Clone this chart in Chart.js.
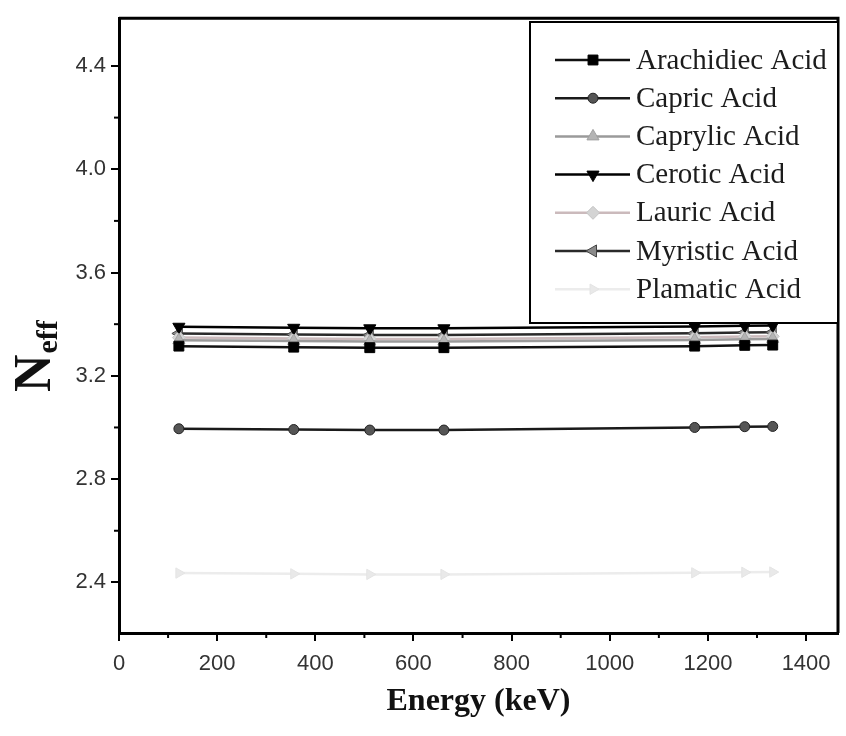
<!DOCTYPE html>
<html>
<head>
<meta charset="utf-8">
<script src="https://cdn.jsdelivr.net/npm/chart.js@4.4.1/dist/chart.umd.min.js"></script>
<style>
    html, body { margin: 0; padding: 0; background: #fff; }
    #contenedor { width: 846px; height: 736px; }
</style>
</head>
<body>
<div id="contenedor"><canvas id="grafica" width="846" height="736"></canvas></div>
<script>
// Energías de los fotones (keV)
const energias = [122, 356, 511, 662, 1173, 1275, 1332];

// Valores de N_eff
const arachidiec = [3.315, 3.311, 3.309, 3.309, 3.315, 3.318, 3.319];
const capric     = [2.995, 2.992, 2.990, 2.990, 3.000, 3.003, 3.004];
const caprylic   = [3.338, 3.335, 3.333, 3.333, 3.339, 3.342, 3.343];
const cerotic    = [3.390, 3.386, 3.384, 3.384, 3.391, 3.394, 3.395];
const lauric     = [3.348, 3.345, 3.343, 3.343, 3.349, 3.352, 3.353];
const myristic   = [3.364, 3.360, 3.358, 3.358, 3.365, 3.368, 3.369];
const plamatic   = [2.436, 2.433, 2.431, 2.431, 2.437, 2.439, 2.440];

// Ticks de los ejes
const xTicks = [0, 200, 400, 600, 800, 1000, 1200, 1400];
const xMenores = [100, 300, 500, 700, 900, 1100, 1300];
const yTicks = [2.4, 2.8, 3.2, 3.6, 4.0, 4.4];
const yMenores = [2.6, 3.0, 3.4, 3.8, 4.2];

const fuenteTicks = "'Liberation Sans', Arial, sans-serif";
const fuenteSerif = "'Liberation Serif', 'Times New Roman', serif";

function puntos(serie) {
    return energias.map((e, i) => ({ x: e, y: serie[i] }));
}

// Estilos de cada serie
const series = [
    { label: "Arachidiec Acid", datos: arachidiec, linea: "#111", relleno: "#000", borde: "#000", estilo: "rect", radio: 7, rot: 0 },
    { label: "Capric Acid", datos: capric, linea: "#1a1a1a", relleno: "#555", borde: "#222", estilo: "circle", radio: 5, rot: 0 },
    { label: "Caprylic Acid", datos: caprylic, linea: "#9a9a9a", relleno: "#b4b4b4", borde: "#a0a0a0", estilo: "triangle", radio: 7, rot: 0 },
    { label: "Cerotic Acid", datos: cerotic, linea: "#000", relleno: "#000", borde: "#000", estilo: "triangle", radio: 7, rot: 180 },
    { label: "Lauric Acid", datos: lauric, linea: "#cbbabc", relleno: "#d4d4d4", borde: "#c4c4c4", estilo: "rectRot", radio: 6.5, rot: 0 },
    { label: "Myristic Acid", datos: myristic, linea: "#2a2a2a", relleno: "#8a8a8a", borde: "#444", estilo: "triangle", radio: 7, rot: 270 },
    { label: "Plamatic Acid", datos: plamatic, linea: "#ececec", relleno: "#e9e9e9", borde: "#e4e4e4", estilo: "triangle", radio: 6, rot: 90 }
];

const datasets = series.map((s) => ({
    label: s.label,
    data: puntos(s.datos),
    borderColor: s.linea,
    borderWidth: 2.5,
    backgroundColor: s.relleno,
    pointStyle: s.estilo,
    pointRadius: s.radio,
    pointRotation: s.rot,
    pointBackgroundColor: s.relleno,
    pointBorderColor: s.borde,
    pointBorderWidth: 1,
    tension: 0,
    fill: false
}));

function dibujarMarcador(ctx, s, x, y) {
    ctx.save();
    ctx.fillStyle = s.relleno;
    ctx.strokeStyle = s.borde;
    ctx.lineWidth = 1;
    if (Chart.helpers && Chart.helpers.drawPoint) {
        Chart.helpers.drawPoint(ctx, { pointStyle: s.estilo, radius: s.radio, rotation: s.rot, borderWidth: 1 }, x, y);
    } else {
        ctx.beginPath();
        ctx.arc(x, y, s.radio, 0, Math.PI * 2);
        ctx.fill();
        ctx.stroke();
    }
    ctx.restore();
}

// Ticks menores, marco, leyenda y títulos
const pluginExtras = {
    id: "extras",
    afterDatasetsDraw(chart) {
        const ctx = chart.ctx;
        const area = chart.chartArea;
        const sx = chart.scales.x;
        const sy = chart.scales.y;

        ctx.save();
        ctx.strokeStyle = "#000";
        ctx.lineWidth = 2;
        xMenores.forEach((v) => {
            const px = sx.getPixelForValue(v);
            ctx.beginPath();
            ctx.moveTo(px, area.bottom);
            ctx.lineTo(px, area.bottom + 5);
            ctx.stroke();
        });
        yMenores.forEach((v) => {
            const py = sy.getPixelForValue(v);
            ctx.beginPath();
            ctx.moveTo(area.left, py);
            ctx.lineTo(area.left - 5, py);
            ctx.stroke();
        });

        // marco superior y derecho
        ctx.lineWidth = 3;
        ctx.beginPath();
        ctx.moveTo(area.left, area.top);
        ctx.lineTo(area.right, area.top);
        ctx.lineTo(area.right, area.bottom);
        ctx.stroke();

        // leyenda
        const lx = 530, ly = 22, lw = 308, lh = 301;
        ctx.fillStyle = "#fff";
        ctx.fillRect(lx, ly, lw, lh);
        ctx.lineWidth = 2;
        ctx.strokeRect(lx, ly, lw, lh);

        ctx.font = "29px " + fuenteSerif;
        ctx.textBaseline = "middle";
        ctx.textAlign = "left";
        series.forEach((s, i) => {
            const y = 60 + i * 38.2;
            ctx.strokeStyle = s.linea;
            ctx.lineWidth = 2.5;
            ctx.beginPath();
            ctx.moveTo(555, y);
            ctx.lineTo(630, y);
            ctx.stroke();
            dibujarMarcador(ctx, s, 593, y);
            ctx.fillStyle = "#1c1c1c";
            ctx.fillText(s.label, 636, y + 1);
        });

        // títulos de ejes
        ctx.fillStyle = "#111";
        ctx.font = "bold 32px " + fuenteSerif;
        ctx.textAlign = "center";
        ctx.textBaseline = "middle";
        ctx.fillText("Energy (keV)", (area.left + area.right) / 2, 702);

        ctx.translate(50, 392);
        ctx.rotate(-Math.PI / 2);
        ctx.textAlign = "left";
        ctx.textBaseline = "alphabetic";
        ctx.font = "bold 52px " + fuenteSerif;
        ctx.fillText("N", 0, 0);
        const anchoN = ctx.measureText("N").width;
        ctx.font = "bold 30px " + fuenteSerif;
        ctx.fillText("eff", anchoN + 1, 7);
        ctx.restore();
    }
};

const grafica = new Chart(document.getElementById("grafica"), {
    type: "line",
    data: { datasets: datasets },
    options: {
        responsive: false,
        animation: false,
        devicePixelRatio: 1,
        layout: { padding: { top: 15, right: 8, left: 0, bottom: 0 } },
        plugins: {
            legend: { display: false },
            tooltip: { enabled: false }
        },
        scales: {
            x: {
                type: "linear",
                min: 0,
                max: 1465,
                afterBuildTicks: (escala) => { escala.ticks = xTicks.map((v) => ({ value: v })); },
                afterFit: (escala) => { escala.height = 103; },
                ticks: {
                    color: "#333",
                    font: { family: fuenteTicks, size: 22 },
                    padding: 10,
                    maxRotation: 0,
                    autoSkip: false,
                    callback: (v) => String(v)
                },
                grid: { drawOnChartArea: false, drawTicks: true, tickLength: 8, color: "#000", lineWidth: 2 },
                border: { display: true, color: "#000", width: 3 }
            },
            y: {
                type: "linear",
                min: 2.204,
                max: 4.585,
                afterBuildTicks: (escala) => { escala.ticks = yTicks.map((v) => ({ value: v })); },
                afterFit: (escala) => { escala.width = 119; },
                ticks: {
                    color: "#333",
                    font: { family: fuenteTicks, size: 22 },
                    padding: 5,
                    autoSkip: false,
                    callback: (v) => Number(v).toFixed(1)
                },
                grid: { drawOnChartArea: false, drawTicks: true, tickLength: 8, color: "#000", lineWidth: 2 },
                border: { display: true, color: "#000", width: 3 }
            }
        }
    },
    plugins: [pluginExtras]
});
</script>
</body>
</html>
